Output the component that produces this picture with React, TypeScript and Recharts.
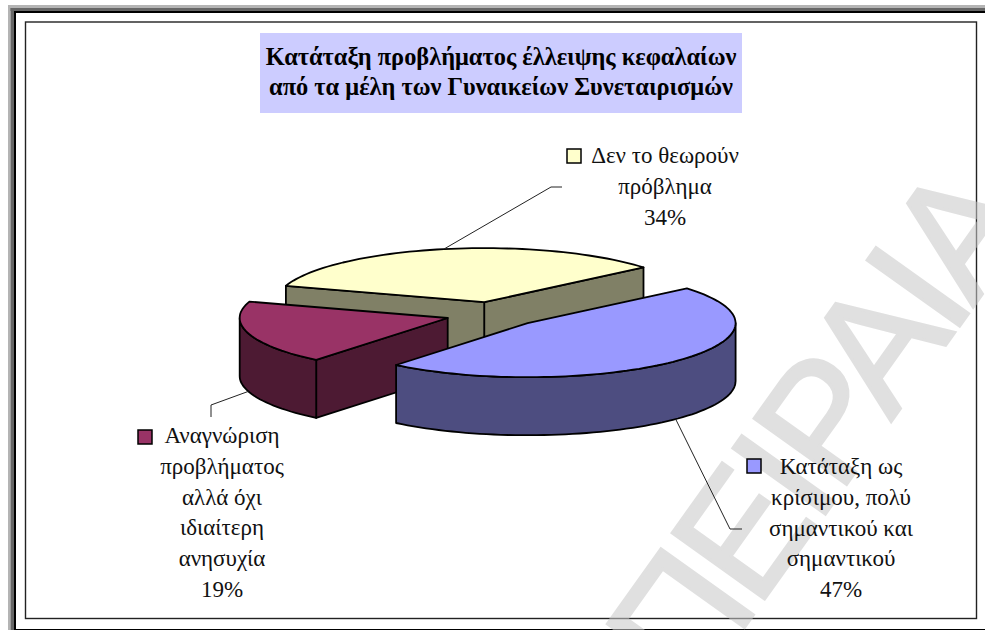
import { PieChart, Pie } from "recharts";

const CATEGORIES = [
  ["Δεν το θεωρούν", "πρόβλημα"],
  ["Αναγνώριση", "προβλήματος", "αλλά όχι", "ιδιαίτερη", "ανησυχία"],
  ["Κατάταξη ως", "κρίσιμου, πολύ", "σημαντικού και", "σημαντικού"],
];
const VALUES = [34, 19, 47];
const COLORS = ["#ffffcc", "#993366", "#9999ff"];
const TITLE = ["Κατάταξη προβλήματος έλλειψης κεφαλαίων", "από τα μέλη των Γυναικείων Συνεταιρισμών"];
const WATERMARK = "ΠΕΙΡΑΙΑ";

const data = VALUES.map((value, i) => ({ name: CATEGORIES[i].join(" "), value, fill: COLORS[i] }));

const SERIF = '"Liberation Serif", "Times New Roman", serif';

// the pie is squashed by hand, recharts only knows about the flat circle
const TILT = 0.26;
const DEPTH = 58;
const EXPLODE = 0.23;
const RAD = Math.PI / 180;

// where each label block sits: centre x, first baseline, legend square, leader elbow + end
const LABEL_POS = [
  { x: 665, y: 163, key: [567, 149], leader: [[551, 187], [562, 187]] },
  { x: 222, y: 443, key: [138, 430], leader: [[211, 405], [211, 417]] },
  { x: 841, y: 474, key: [747, 459], leader: [[730, 529], [742, 529]] },
];

function darken(hex: string) {
  const n = parseInt(hex.slice(1), 16);
  const c = [(n >> 16) & 255, (n >> 8) & 255, n & 255].map((v) => Math.round(v / 2));
  return `rgb(${c[0]},${c[1]},${c[2]})`;
}

function project(p: any, midAngle: number) {
  const r = p.outerRadius;
  const ax = p.cx + Math.cos(midAngle * RAD) * r * EXPLODE;
  const ay = p.cy - Math.sin(midAngle * RAD) * r * EXPLODE * TILT;
  return (deg: number, drop = 0, k = 1) =>
    [ax + Math.cos(deg * RAD) * r * k, ay - Math.sin(deg * RAD) * r * TILT * k + drop] as [number, number];
}

function arcPts(pt: any, from: number, to: number, drop = 0) {
  const out: [number, number][] = [];
  const n = Math.max(1, Math.ceil(Math.abs(to - from) / 2));
  for (let i = 0; i <= n; i++) out.push(pt(from + ((to - from) * i) / n, drop));
  return out;
}

const toPath = (pts: number[][]) => "M" + pts.map((p) => `${p[0].toFixed(1)},${p[1].toFixed(1)}`).join("L") + "Z";

function Slice3D(props: any) {
  const { startAngle, endAngle, fill } = props;
  const lo = Math.min(startAngle, endAngle);
  const hi = Math.max(startAngle, endAngle);
  const mid = (lo + hi) / 2;
  const pt = project(props, mid);
  const wall = darken(fill);
  const common = { stroke: "#000", strokeWidth: 1.8, strokeLinejoin: "round" as const };

  const apex = pt(0, 0, 0);
  const apexLow = pt(0, DEPTH, 0);
  const faces: string[] = [];

  // radial walls, only if they face the viewer
  if (Math.sin((lo - 90) * RAD) < 0) faces.push(toPath([apex, pt(lo), pt(lo, DEPTH), apexLow]));
  if (Math.sin((hi + 90) * RAD) < 0) faces.push(toPath([apex, pt(hi), pt(hi, DEPTH), apexLow]));

  // rim: front half only (180-360 degrees)
  const a = Math.max(lo, 180);
  const b = Math.min(hi, 360);
  if (b > a) faces.push(toPath([...arcPts(pt, a, b), ...arcPts(pt, b, a, DEPTH)]));

  const top = toPath([apex, ...arcPts(pt, lo, hi)]);
  return (
    <g>
      {faces.map((d, i) => (
        <path key={i} d={d} fill={wall} {...common} />
      ))}
      <path d={top} fill={fill} {...common} />
    </g>
  );
}

function SliceLabel(props: any) {
  const { index, midAngle, value, fill } = props;
  const pos = LABEL_POS[index];
  const pt = project(props, midAngle);
  const visibleFront = Math.sin(midAngle * RAD) < 0;
  const start = pt(midAngle, visibleFront ? DEPTH : 0);
  const lines = [...CATEGORIES[index], `${value}%`];
  const leader = [start, ...pos.leader].map((p) => p.join(",")).join(" ");
  return (
    <g>
      <polyline points={leader} fill="none" stroke="#222" strokeWidth={1} />
      <rect x={pos.key[0]} y={pos.key[1]} width={14} height={14} fill={fill} stroke="#000" strokeWidth={1.5} />
      <text textAnchor="middle" style={{ fontFamily: SERIF, fontSize: 23 }} fill="#111">
        {lines.map((l, i) => (
          <tspan key={i} x={pos.x} y={pos.y + i * 30.8}>
            {l}
          </tspan>
        ))}
      </text>
    </g>
  );
}

export default function App() {
  return (
    <div style={{ position: "absolute", left: 0, top: 0, width: 985, height: 630, overflow: "hidden", background: "#fff" }}>
      <PieChart width={985} height={630} margin={{ top: 0, right: 0, bottom: 0, left: 0 }}>
        {/* page frame */}
        <rect x={8} y={5} width={977} height={3} fill="#b4b4b4" />
        <rect x={8} y={5} width={2.5} height={625} fill="#b4b4b4" />
        <rect x={10.5} y={8} width={975} height={3} fill="#666" />
        <rect x={10.5} y={8} width={3.5} height={622} fill="#666" />
        <rect x={14} y={11} width={971} height={2} fill="#000" />
        <rect x={14} y={11} width={2} height={619} fill="#000" />
        <rect x={14} y={629} width={971} height={1.5} fill="#000" />
        <rect x={25.5} y={22} width={951} height={596.5} fill="#fff" stroke="#222" strokeWidth={1.4} />

        {/* title */}
        <rect x={260} y={33} width={482} height={80} fill="#ccccff" />
        <text textAnchor="middle" style={{ fontFamily: SERIF, fontWeight: "bold", fontSize: 24.4 }} fill="#000">
          {TITLE.map((t, i) => (
            <tspan key={i} x={501} y={65 + i * 30}>
              {t}
            </tspan>
          ))}
        </text>

        <Pie
          data={data}
          dataKey="value"
          nameKey="name"
          cx={493.5}
          cy={314.4}
          innerRadius={0}
          outerRadius={208}
          startAngle={40}
          endAngle={400}
          shape={Slice3D}
          label={SliceLabel}
          labelLine={false}
          isAnimationActive={false}
        />

        {/* diagonal watermark over everything */}
        <text
          transform="translate(692,701) rotate(-54.5)"
          style={{ fontFamily: '"Liberation Sans", sans-serif', fontSize: 165, letterSpacing: -7.5 }}
          fill="#c8c8c8"
          stroke="#c8c8c8"
          strokeWidth={3}
          opacity={0.56}
        >
          {WATERMARK}
        </text>
      </PieChart>
    </div>
  );
}
